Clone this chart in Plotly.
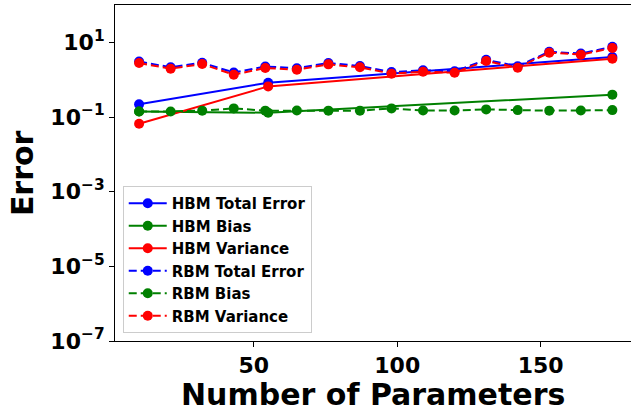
import plotly.graph_objects as go

# ---- data ----
rbm_params = [10, 21, 32, 43, 54, 65, 76, 87, 98, 109, 120, 131, 142, 153, 164, 175]
hbm_params = [10, 55, 175]

hbm_total = [0.218, 0.83, 4.04]
hbm_bias = [0.141, 0.130, 0.397]
hbm_variance = [0.066, 0.66, 3.65]

rbm_total = [3.05, 2.15, 2.85, 1.55, 2.25, 2.02, 2.8, 2.33, 1.6, 1.78, 1.68, 3.4, 2.28, 5.6, 5.0, 7.6]
rbm_bias = [0.141, 0.141, 0.148, 0.170, 0.148, 0.150, 0.148, 0.148, 0.170, 0.150,
            0.150, 0.160, 0.153, 0.148, 0.150, 0.153]
rbm_variance = [2.79, 1.97, 2.62, 1.36, 2.05, 1.85, 2.57, 2.14, 1.45, 1.64, 1.54, 3.16, 2.09, 5.29, 4.68, 7.04]

y_tick_vals = [1e-7, 1e-5, 1e-3, 1e-1, 1e1]
y_tick_text = ["10<sup>−7</sup>", "10<sup>−5</sup>", "10<sup>−3</sup>", "10<sup>−1</sup>", "10<sup>1</sup>"]
x_tick_vals = [50, 100, 150]
x_title = "Number of Parameters"
y_title = "Error"

BLUE, GREEN, RED = "#0000ff", "#008000", "#ff0000"
DASH = "8px,4px"

series = [
    ("HBM Total Error", hbm_params, hbm_total, BLUE, "solid"),
    ("HBM Bias", hbm_params, hbm_bias, GREEN, "solid"),
    ("HBM Variance", hbm_params, hbm_variance, RED, "solid"),
    ("RBM Total Error", rbm_params, rbm_total, BLUE, DASH),
    ("RBM Bias", rbm_params, rbm_bias, GREEN, DASH),
    ("RBM Variance", rbm_params, rbm_variance, RED, DASH),
]

fig = go.Figure()
for i, (name, xs, ys, col, dash) in enumerate(series):
    fig.add_trace(go.Scatter(
        x=xs, y=ys, name=name, mode="lines+markers",
        line=dict(color=col, width=2, dash=dash),
        marker=dict(color=col, size=10),
    ))

font_family = "DejaVu Sans"
fig.update_layout(
    width=631, height=412,
    margin=dict(l=115, r=0, t=5, b=71, autoexpand=False),
    paper_bgcolor="white", plot_bgcolor="white",
    font=dict(family=font_family, color="black", size=14, weight="bold"),
    legend=dict(
        x=0.015, y=0.024, xanchor="left", yanchor="bottom",
        bgcolor="rgba(255,255,255,0.85)", bordercolor="#cccccc", borderwidth=1,
        font=dict(family=font_family, size=15, color="black", weight="bold"),
        itemwidth=38,
    ),
    xaxis=dict(
        range=[1.6, 181.5], tickvals=x_tick_vals, automargin=False,
        showline=True, linecolor="black", linewidth=1, mirror=True,
        ticks="outside", ticklen=5, tickcolor="black",
        tickfont=dict(family=font_family, size=22, weight="bold"),
        showgrid=False, zeroline=False,
    ),
    yaxis=dict(
        type="log", range=[-7, 2], tickvals=y_tick_vals, ticktext=y_tick_text,
        automargin=False,
        showline=True, linecolor="black", linewidth=1,
        ticks="outside", ticklen=5, tickcolor="black",
        tickfont=dict(family=font_family, size=22, weight="bold"),
        showgrid=False, zeroline=False,
    ),
    annotations=[
        dict(text=x_title, xref="paper", yref="paper", x=0.5, y=-0.158,
             xanchor="center", yanchor="middle", showarrow=False,
             font=dict(family=font_family, size=30, weight="bold")),
        dict(text=y_title, xref="paper", yref="paper", x=-0.180, y=0.5,
             xanchor="center", yanchor="middle", showarrow=False, textangle=-90,
             font=dict(family=font_family, size=30, weight="bold")),
    ],
)

fig.write_html(
    "out.html",
    config={"displayModeBar": False},
    post_script="document.body.style.margin='0';document.body.style.padding='0';",
)
